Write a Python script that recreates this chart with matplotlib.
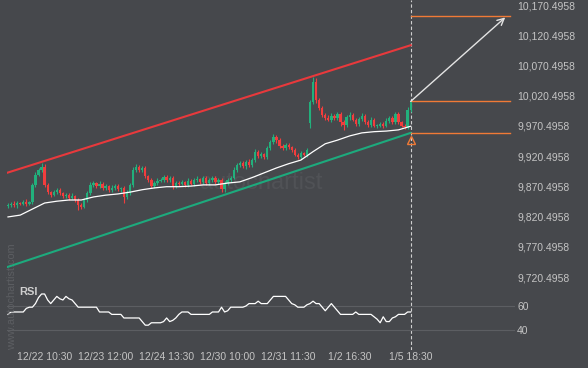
import numpy as np
import matplotlib.pyplot as plt

plt.rcParams['font.family'] = ['Liberation Sans', 'DejaVu Sans']

# candle data (one per bar, oldest first)
closes = [9840, 9842, 9840, 9843, 9842, 9845, 9842, 9845, 9873, 9890,
          9898, 9903, 9873, 9861, 9857, 9861, 9865, 9860, 9855, 9857,
          9852, 9855, 9848, 9840, 9837, 9848, 9860, 9873, 9876, 9871,
          9875, 9868, 9871, 9865, 9868, 9871, 9866, 9868, 9853, 9861,
          9873, 9898, 9903, 9898, 9901, 9888, 9881, 9871, 9876, 9880,
          9881, 9886, 9881, 9885, 9871, 9876, 9875, 9878, 9873, 9880,
          9875, 9881, 9883, 9878, 9885, 9876, 9881, 9885, 9878, 9881,
          9866, 9876, 9881, 9885, 9898, 9906, 9909, 9904, 9911, 9906,
          9914, 9928, 9921, 9924, 9919, 9934, 9944, 9952, 9947, 9937,
          9934, 9939, 9936, 9931, 9923, 9919, 9926, 9923, 9931, 10010,
          10043, 10013, 10000, 9989, 9984, 9981, 9987, 9984, 9990, 9977,
          9972, 9985, 9989, 9981, 9974, 9982, 9987, 9977, 9972, 9981,
          9971, 9971, 9974, 9971, 9979, 9984, 9977, 9990, 9977, 9971,
          9969, 9997, 10010]
first_open = 9838
gap_bar = 99
gap_open = 9976

wick_hi = [3, 2, 4, 3, 2, 3, 4, 2, 3, 4, 3, 6, 4, 3, 2, 4, 3, 3, 2, 3,
           3, 4, 2, 3, 3, 4, 3, 4, 3, 2, 4, 3, 3, 2, 4, 3, 3, 2, 3, 4,
           3, 4, 5, 3, 3, 4, 2, 3, 3, 4, 3, 4, 3, 2, 3, 4, 3, 3, 2, 4,
           3, 3, 4, 2, 3, 3, 4, 3, 2, 3, 3, 3, 4, 3, 4, 3, 4, 3, 3, 4,
           3, 4, 3, 3, 2, 4, 4, 5, 3, 3, 3, 4, 3, 2, 3, 3, 3, 2, 3, 4,
           8, 6, 4, 3, 3, 4, 5, 3, 4, 3, 3, 4, 5, 3, 3, 4, 5, 3, 3, 4,
           3, 2, 3, 3, 4, 3, 3, 4, 3, 2, 3, 4, 3]
wick_lo = [4, 3, 3, 5, 3, 3, 4, 3, 3, 3, 3, 3, 4, 3, 4, 3, 3, 4, 3, 3,
           4, 3, 4, 8, 4, 3, 3, 3, 4, 3, 3, 4, 3, 3, 4, 3, 3, 4, 10, 3,
           4, 3, 3, 4, 3, 3, 4, 3, 3, 4, 3, 3, 4, 3, 5, 3, 4, 3, 3, 4,
           3, 4, 3, 3, 4, 3, 3, 4, 3, 3, 5, 4, 3, 3, 3, 4, 3, 3, 4, 3,
           3, 3, 4, 3, 4, 3, 3, 3, 4, 3, 3, 4, 3, 4, 3, 4, 3, 3, 4, 9,
           3, 4, 3, 4, 3, 3, 4, 3, 4, 6, 8, 3, 4, 3, 4, 3, 3, 4, 4, 3,
           3, 4, 3, 4, 3, 3, 4, 3, 4, 3, 4, 3, 3]

# moving average, read every 4th bar
ma_bars = list(range(0, 133, 4))
ma_vals = [9820, 9823, 9833, 9843, 9846, 9848, 9848, 9853, 9856, 9858,
           9861, 9865, 9868, 9870, 9870, 9871, 9873, 9873, 9876, 9878,
           9885, 9893, 9901, 9908, 9914, 9928, 9941, 9947, 9954, 9959,
           9961, 9962, 9964, 9970]

rsi = [53, 55, 55, 55, 55, 55, 58, 59, 59, 62, 67, 70, 70, 65, 62, 65, 68, 66, 65, 68,
       66, 65, 62, 59, 59, 59, 59, 59, 59, 59, 55, 55, 55, 55, 53, 53, 53, 53, 50, 50,
       50, 50, 50, 50, 47, 44, 44, 46, 46, 46, 46, 47, 50, 47, 48, 50, 53, 55, 55, 55,
       53, 53, 53, 53, 53, 53, 53, 55, 55, 55, 59, 55, 56, 59, 59, 59, 59, 59, 60, 62,
       62, 62, 64, 62, 62, 62, 65, 68, 68, 68, 68, 68, 65, 62, 61, 59, 59, 59, 61, 62,
       64, 62, 62, 59, 56, 59, 62, 59, 56, 53, 53, 53, 53, 53, 55, 53, 53, 53, 53, 53,
       51, 49, 46, 51, 47, 47, 50, 51, 53, 53, 53, 55, 55]

# channel and targets
channel_x = [-0.3, 132]
resistance = [9893, 10104]
support = [9737, 9959]
target_x = [132, 164.5]
target_hi = 10152
entry = 10011
target_lo = 9958
arrow_end = (163, 10150)
marker_price = 9947

price_ticks = [9720.4958 + 50 * k for k in range(10)]
xtick_bars = [12, 32, 52, 72, 92, 112, 132]
xtick_labels = ['12/22 10:30', '12/23 12:00', '12/24 13:30', '12/30 10:00',
                '12/31 11:30', '1/2 16:30', '1/5 18:30']

bg = '#46484c'
green = '#22b07c'
red = '#f23d3d'
orange = '#f07a36'
txt = '#c4c4c4'

fig = plt.figure(figsize=(5.88, 3.68), dpi=100, facecolor=bg)
ax = fig.add_axes([7 / 588, 83 / 368, 508 / 588, 285 / 368], facecolor=bg)
rx = fig.add_axes([7 / 588, 18 / 368, 508 / 588, 65 / 368], facecolor=bg)

idx = np.arange(len(closes))
c = np.array(closes, dtype=float)
o = np.array([first_open] + closes[:-1], dtype=float)
o[gap_bar] = gap_open
top = np.maximum(o, c)
bot = np.minimum(o, c)
hi = top + np.array(wick_hi)
lo = bot - np.array(wick_lo)
cols = [green if cc >= oo else red for oo, cc in zip(o, c)]

ax.vlines(idx, lo, hi, color=cols, linewidth=0.8, zorder=3)
ax.bar(idx, np.maximum(top - bot, 1.0), bottom=bot, width=0.75,
       color=cols, linewidth=0, zorder=4)
ax.plot(ma_bars, ma_vals, color='white', lw=0.9, zorder=5)

ax.plot(channel_x, resistance, color='#e8393c', lw=1.5, zorder=2)
ax.plot(channel_x, support, color='#1daa7d', lw=1.5, zorder=2)

for lvl in [target_hi, entry, target_lo]:
    ax.plot(target_x, [lvl, lvl], color=orange, lw=1.0, zorder=3)
ax.annotate('', xy=arrow_end, xytext=(132, entry),
            arrowprops=dict(arrowstyle='->', color='#e4e4e4', lw=1.0,
                            mutation_scale=12, shrinkA=0, shrinkB=0))
ax.plot(132, marker_price, marker='^', ms=5.5, mfc='none', mec=orange,
        mew=1.0, zorder=6)
ax.axvline(132, color='#cfcfcf', lw=0.8, ls=(0, (3, 2)), zorder=1)

ax.text(0.5, 1 - 183 / 285, 'autochartist', transform=ax.transAxes,
        ha='center', va='center', fontsize=17, color='#505256', zorder=0)

ax.set_xlim(-0.33, 166.2)
ax.set_ylim(9707.4, 10178.8)
ax.yaxis.tick_right()
ax.set_yticks(price_ticks)
ax.set_yticklabels(['{:,.4f}'.format(v) for v in price_ticks])
ax.tick_params(axis='y', length=0, pad=1.5, labelsize=7.5, labelcolor=txt)
ax.set_xticks([])
for s in ax.spines.values():
    s.set_visible(False)

# RSI panel
rx.plot(idx, rsi, color='white', lw=0.9, zorder=3)
rx.axvline(132, color='#cfcfcf', lw=0.8, ls=(0, (3, 2)), zorder=1)
rx.set_xlim(-0.33, 166.2)
rx.set_ylim(23.3, 77.5)
rx.yaxis.tick_right()
rx.set_yticks([40, 60])
rx.grid(axis='y', color='#5c5e62', lw=0.8)
rx.set_xticks(xtick_bars)
rx.set_xticklabels(xtick_labels)
rx.tick_params(axis='both', length=0, labelsize=7.5, labelcolor=txt)
rx.tick_params(axis='x', pad=1.5)
rx.tick_params(axis='y', pad=1.5)
for s in rx.spines.values():
    s.set_visible(False)
rx.text(0.025, 0.97, 'RSI', transform=rx.transAxes, ha='left', va='top',
        fontsize=8, fontweight='bold', color='#cfcfcf', zorder=5)

fig.text(12 / 588, 1 - 297 / 368, 'www.autochartist.com', rotation=90,
         ha='center', va='center', fontsize=7.8, color='#5c5e62')

fig.savefig('out.png', dpi=100, facecolor=bg)
